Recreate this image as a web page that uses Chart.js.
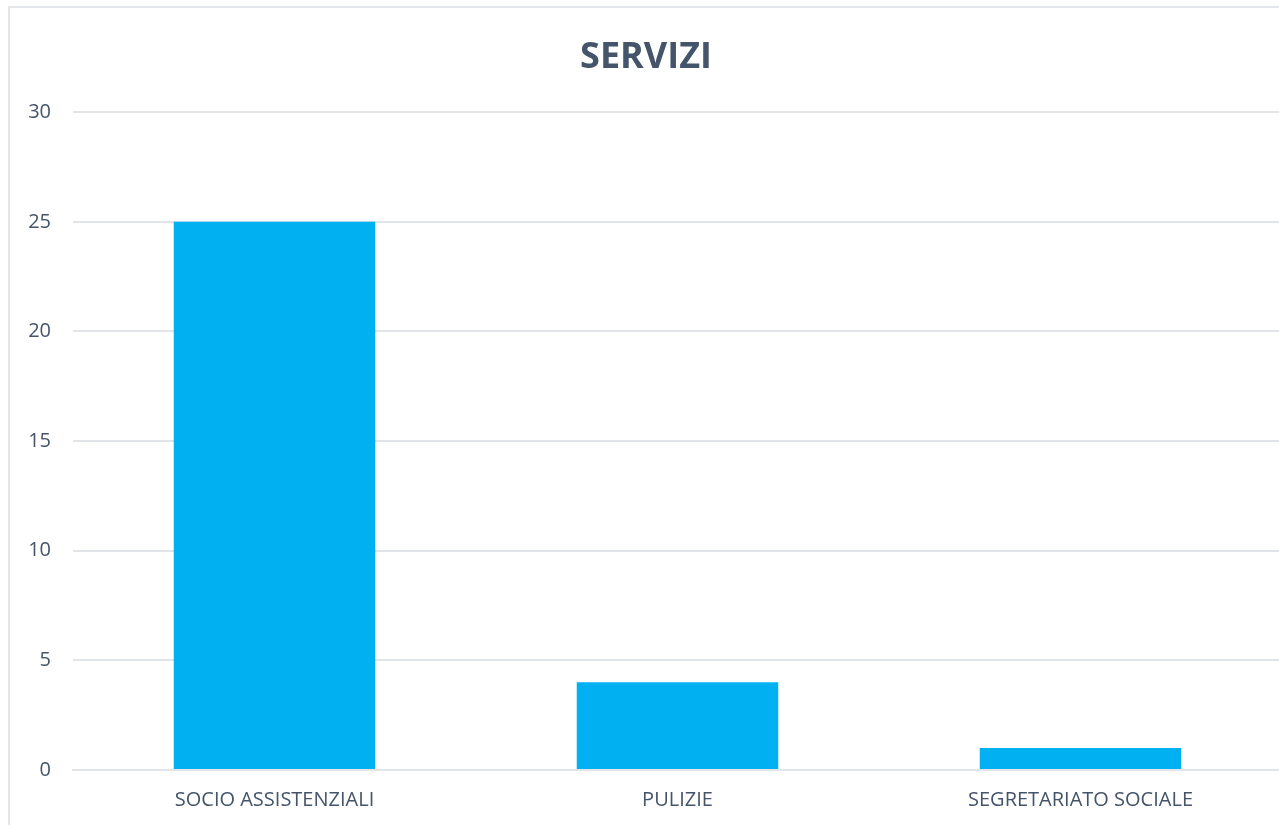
<!DOCTYPE html>
<html>
<head>
<meta charset="utf-8">
<script src="https://cdn.jsdelivr.net/npm/chart.js@4/dist/chart.umd.min.js"></script>
<style>
  html, body { margin: 0; padding: 0; background: #fff; overflow: hidden; }
  #box {
    position: absolute; left: 8px; top: 6px;
    width: 1275px; height: 819px;
    border-left: 2px solid #e3e7ec; border-top: 2px solid #e3e7ec;
  }
</style>
</head>
<body>
<div id="box"><canvas id="servizi-chart"></canvas></div>
<script>
// dati
const categorie = ['SOCIO ASSISTENZIALI', 'PULIZIE', 'SEGRETARIATO SOCIALE'];
const valori = [25, 4, 1];

const testo = '#44546A';
const griglia = '#e1e5ea';

const data = {
  labels: categorie,
  datasets: [{
    label: 'SERVIZI',
    data: valori,
    backgroundColor: '#00B0F0',
    borderWidth: 0,
    barPercentage: 1,
    categoryPercentage: 0.5
  }]
};

const config = {
  type: 'bar',
  data,
  options: {
    responsive: true,
    maintainAspectRatio: false,
    animation: false,
    layout: { padding: { left: 0, right: 3, top: 0, bottom: 0 } },
    plugins: {
      legend: { display: false },
      tooltip: { enabled: false },
      title: {
        display: true,
        text: 'SERVIZI',
        color: testo,
        font: { family: 'Open Sans', size: 36, weight: 'bold' },
        padding: { top: 28, bottom: 33 }
      }
    },
    scales: {
      y: {
        min: 0, max: 30,
        ticks: { stepSize: 5, color: testo, padding: 22, font: { family: 'Open Sans', size: 20 } },
        grid: { color: griglia, lineWidth: 2, drawTicks: false },
        border: { display: false },
        afterFit(scale) { scale.width = 63; }
      },
      x: {
        ticks: { color: testo, padding: 18, font: { family: 'Open Sans', size: 20 } },
        grid: { display: false, drawTicks: false },
        border: { display: true, color: griglia, width: 2 },
        afterFit(scale) { scale.height = 57; }
      }
    }
  }
};

const myChart = new Chart(document.getElementById('servizi-chart'), config);
</script>
</body>
</html>
